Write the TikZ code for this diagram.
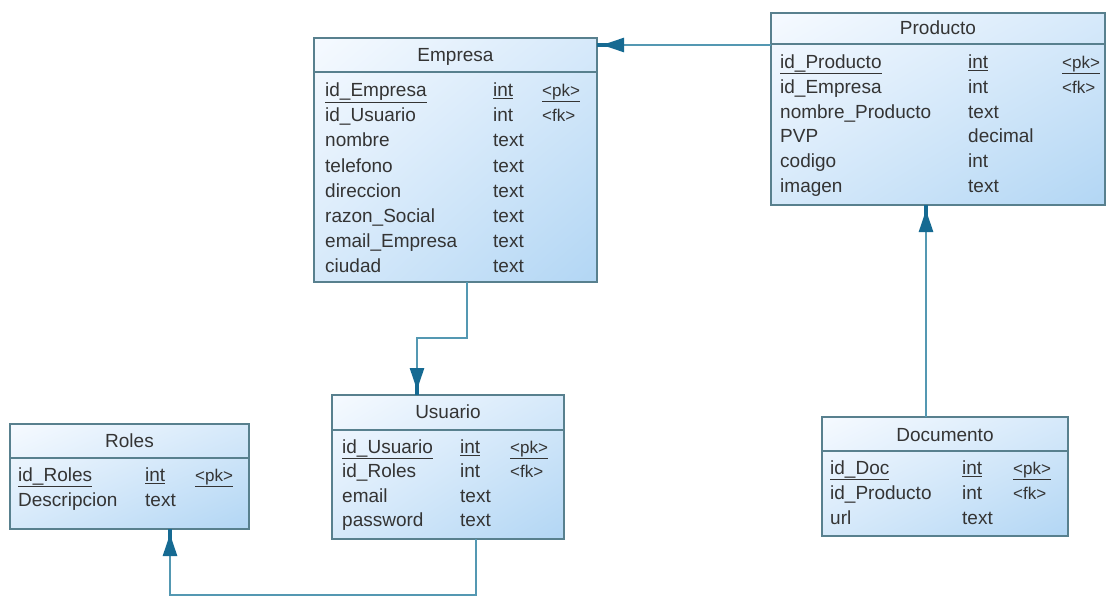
\documentclass[tikz,border=0pt]{standalone}
\usepackage{fontspec}
\setmainfont{Liberation Sans}
\usetikzlibrary{arrows.meta,calc,shadings}

\definecolor{tabborder}{RGB}{88,128,142}
\definecolor{linkline}{RGB}{84,152,178}
\definecolor{linktip}{RGB}{22,106,146}
\definecolor{fillUL}{RGB}{246,250,255}
\definecolor{fillUR}{RGB}{214,233,250}
\definecolor{fillLL}{RGB}{214,233,250}
\definecolor{fillLR}{RGB}{178,214,244}
\definecolor{txt}{RGB}{52,52,52}

\tikzset{
  x=1pt, y=1pt,
  tab/.style={draw=tabborder, line width=1.5pt, rectangle, inner sep=0pt,
    outer sep=0pt, anchor=north west,
    upper left=fillUL, upper right=fillUR, lower left=fillLL, lower right=fillLR},
  tabsep/.style={draw=tabborder, line width=1.5pt},
  fld/.style={anchor=base west, inner sep=0pt, text=txt,
    font=\fontsize{19}{22}\selectfont},
  keyfld/.style={fld, font=\fontsize{17}{20}\selectfont},
  ttl/.style={anchor=base, inner sep=0pt, text=txt,
    font=\fontsize{19}{22}\selectfont},
  link/.style={draw=linkline, line width=2.5pt, shorten >=5pt,
    -{Triangle[length=22pt,width=14pt,color=linktip]}},
  stem/.style={draw=linktip, line width=4pt},
}

% one attribute row: prefix, baseline, name, type, key
\newcommand\tabrow[5]{%
  \node[fld] (#1-n) at (\colA,-#2) {#3};
  \node[fld] (#1-t) at (\colB,-#2) {#4};
  \node[keyfld] (#1-k) at (\colC,-#2) {#5};}
% attribute row without key
\newcommand\tabrowb[4]{%
  \node[fld] (#1-n) at (\colA,-#2) {#3};
  \node[fld] (#1-t) at (\colB,-#2) {#4};}

\begin{document}
\begin{tikzpicture}
\useasboundingbox (0,0) rectangle (1108,-597);

% Empresa
\begin{scope}[shift={(314,-38)}]
  \node[tab, minimum width=283pt, minimum height=244pt] (empresa) at (0,0) {};
  \draw[tabsep] (0,-34) -- (283,-34);
  \node[ttl] (empresa-ttl) at (141.5,-23.5) {Empresa};
  \def\colA{11}\def\colB{179}\def\colC{228}
  \tabrow{emp1}{58.5}{\underline{id\_Empresa}}{\underline{int}}{\underline{<pk>}}
  \tabrow{emp2}{83.7}{id\_Usuario}{int}{<fk>}
  \tabrowb{emp3}{108.9}{nombre}{text}
  \tabrowb{emp4}{134.1}{telefono}{text}
  \tabrowb{emp5}{159.3}{direccion}{text}
  \tabrowb{emp6}{184.5}{razon\_Social}{text}
  \tabrowb{emp7}{209.7}{email\_Empresa}{text}
  \tabrowb{emp8}{234.9}{ciudad}{text}
\end{scope}

% Producto
\begin{scope}[shift={(771,-13)}]
  \node[tab, minimum width=334pt, minimum height=192pt] (prod) at (0,0) {};
  \draw[tabsep] (0,-31) -- (334,-31);
  \node[ttl] (prod-ttl) at (167,-21.5) {Producto};
  \def\colA{9}\def\colB{197}\def\colC{291}
  \tabrow{pro1}{55.5}{\underline{id\_Producto}}{\underline{int}}{\underline{<pk>}}
  \tabrow{pro2}{80.3}{id\_Empresa}{int}{<fk>}
  \tabrowb{pro3}{105.1}{nombre\_Producto}{text}
  \tabrowb{pro4}{129.9}{PVP}{decimal}
  \tabrowb{pro5}{154.7}{codigo}{int}
  \tabrowb{pro6}{179.5}{imagen}{text}
\end{scope}

% Documento
\begin{scope}[shift={(822,-417)}]
  \node[tab, minimum width=246pt, minimum height=119pt] (doc) at (0,0) {};
  \draw[tabsep] (0,-34) -- (246,-34);
  \node[ttl] (doc-ttl) at (123,-24.5) {Documento};
  \def\colA{8}\def\colB{140}\def\colC{191}
  \tabrow{doc1}{57.5}{\underline{id\_Doc}}{\underline{int}}{\underline{<pk>}}
  \tabrow{doc2}{82.5}{id\_Producto}{int}{<fk>}
  \tabrowb{doc3}{107.5}{url}{text}
\end{scope}

% Roles
\begin{scope}[shift={(10,-424)}]
  \node[tab, minimum width=239pt, minimum height=105pt] (roles) at (0,0) {};
  \draw[tabsep] (0,-34) -- (239,-34);
  \node[ttl] (roles-ttl) at (119.5,-23.5) {Roles};
  \def\colA{8}\def\colB{135}\def\colC{185}
  \tabrow{rol1}{57.5}{\underline{id\_Roles}}{\underline{int}}{\underline{<pk>}}
  \tabrowb{rol2}{82}{Descripcion}{text}
\end{scope}

% Usuario
\begin{scope}[shift={(332,-395)}]
  \node[tab, minimum width=232pt, minimum height=144pt] (usuario) at (0,0) {};
  \draw[tabsep] (0,-35) -- (232,-35);
  \node[ttl] (usuario-ttl) at (116,-23.5) {Usuario};
  \def\colA{10}\def\colB{128}\def\colC{178}
  \tabrow{usu1}{58.5}{\underline{id\_Usuario}}{\underline{int}}{\underline{<pk>}}
  \tabrow{usu2}{82.8}{id\_Roles}{int}{<fk>}
  \tabrowb{usu3}{107.1}{email}{text}
  \tabrowb{usu4}{131.4}{password}{text}
\end{scope}

% reference end points on the referenced tables
\coordinate (refEmp) at ($(empresa.north east)+(0,-7)$);
\coordinate (refUsu) at ($(usuario.north west)+(85,0)$);
\coordinate (refPro) at ($(prod.south west)+(155,0)$);
\coordinate (refRol) at ($(roles.south west)+(160,0)$);

% references
\draw[link] ($(prod.north west)+(0,-32)$) -- (refEmp);
\draw[stem] (refEmp) -- ++(11,0);
\draw[link] ($(empresa.south west)+(153,0)$) |- ($(usuario.north west)+(85,57)$)
  -- (refUsu);
\draw[stem] (refUsu) -- ++(0,11);
\draw[link] ($(doc.north west)+(104,0)$) -- (refPro);
\draw[stem] (refPro) -- ++(0,-11);
\draw[link] ($(usuario.south west)+(144,0)$) -- ++(0,-56) -| (refRol);
\draw[stem] (refRol) -- ++(0,-11);
\end{tikzpicture}
\end{document}
